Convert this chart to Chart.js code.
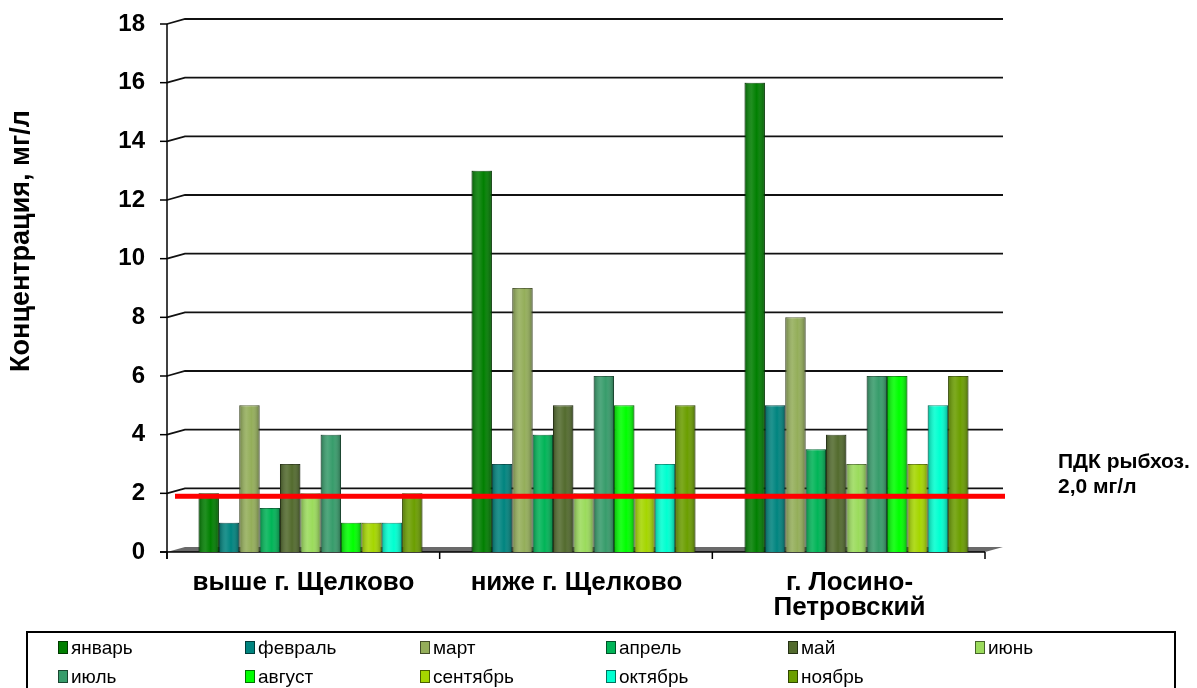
<!DOCTYPE html>
<html>
<head>
<meta charset="utf-8">
<script src="https://cdn.jsdelivr.net/npm/chart.js@4.4.1/dist/chart.umd.min.js"></script>
<style>
  html, body { margin: 0; padding: 0; background: #fff; }
  #wrap { width: 1197px; height: 688px; position: relative; }
</style>
</head>
<body>
<div id="wrap"><canvas id="c" width="1197" height="688"></canvas></div>
<script>
// ---- data ----
const categories = [['выше г. Щелково'], ['ниже г. Щелково'], ['г. Лосино-', 'Петровский']];
const months = ['январь', 'февраль', 'март', 'апрель', 'май', 'июнь', 'июль', 'август', 'сентябрь', 'октябрь', 'ноябрь'];
const jan = [2, 13, 16];
const feb = [1, 3, 5];
const mar = [5, 9, 8];
const apr = [1.5, 4, 3.5];
const may = [3, 5, 4];
const jun = [2, 2, 3];
const jul = [4, 6, 6];
const aug = [1, 5, 6];
const sep = [1, 2, 3];
const oct = [1, 3, 5];
const nov = [2, 5, 6];
const seriesValues = [jan, feb, mar, apr, may, jun, jul, aug, sep, oct, nov];
const colors = ['#007F00', '#00847F', '#94AE5A', '#00B457', '#536B2E', '#9BDB5C', '#379C6B', '#00FF00', '#A5D600', '#00FFD0', '#6B9E00'];
const yTicks = [0, 2, 4, 6, 8, 10, 12, 14, 16, 18];
const pdkLevel = 1.9;   // drawn position of the ПДК line
const pdkText = ['ПДК рыбхоз.', '2,0 мг/л'];
const yTitle = 'Концентрация, мг/л';

const FONT = '"Liberation Sans", Arial, sans-serif';

function darker(hex, f) {
  const n = parseInt(hex.slice(1), 16);
  const r = Math.round(((n >> 16) & 255) * f), g = Math.round(((n >> 8) & 255) * f), b = Math.round((n & 255) * f);
  return `rgb(${r},${g},${b})`;
}

const datasets = months.map((m, i) => ({
  label: m,
  data: seriesValues[i],
  backgroundColor: colors[i],
  borderColor: darker(colors[i], 0.6),
  borderWidth: 1,
  categoryPercentage: 0.82,
  barPercentage: 1.0
}));

const DX = 18, DY = 5;

const deco = {
  id: 'deco',
  beforeDatasetsDraw(chart) {
    const ctx = chart.ctx, y = chart.scales.y;
    const L = 167, R = 1003;
    ctx.save();
    const y0 = y.getPixelForValue(0);
    ctx.fillStyle = '#6a6a6a';
    ctx.beginPath();
    ctx.moveTo(L, y0); ctx.lineTo(L + DX, y0 - DY); ctx.lineTo(R, y0 - DY); ctx.lineTo(R - DX, y0);
    ctx.closePath(); ctx.fill();
    ctx.strokeStyle = '#111';
    ctx.lineWidth = 1.8;
    yTicks.forEach(v => {
      if (v === 0) return;
      const py = y.getPixelForValue(v);
      ctx.beginPath();
      ctx.moveTo(L, py); ctx.lineTo(L + DX, py - DY); ctx.lineTo(R, py - DY);
      ctx.stroke();
    });
    ctx.lineWidth = 1.5;
    ctx.strokeStyle = '#000';
    ctx.beginPath();
    ctx.moveTo(L, y.getPixelForValue(18)); ctx.lineTo(L, y0 + 7);
    ctx.stroke();
    yTicks.forEach(v => {
      const py = y.getPixelForValue(v);
      ctx.beginPath(); ctx.moveTo(L - 7, py); ctx.lineTo(L, py); ctx.stroke();
    });
    ctx.beginPath(); ctx.moveTo(L - 7, y0); ctx.lineTo(R - DX, y0); ctx.stroke();
    const catW = (R - DX - L) / categories.length;
    for (let i = 0; i <= categories.length; i++) {
      const px = L + catW * i;
      ctx.beginPath(); ctx.moveTo(px, y0); ctx.lineTo(px, y0 + 7); ctx.stroke();
    }
    ctx.restore();
  },
  afterDatasetsDraw(chart) {
    const ctx = chart.ctx, y = chart.scales.y;
    ctx.save();
    chart.data.datasets.forEach((ds, di) => {
      chart.getDatasetMeta(di).data.forEach(el => {
        const x0 = el.x - el.width / 2, x1 = el.x + el.width / 2;
        const g = ctx.createLinearGradient(x0, 0, x1, 0);
        g.addColorStop(0, 'rgba(0,0,0,0.28)');
        g.addColorStop(0.35, 'rgba(255,255,255,0.12)');
        g.addColorStop(0.6, 'rgba(255,255,255,0.0)');
        g.addColorStop(1, 'rgba(0,0,0,0.32)');
        ctx.fillStyle = g;
        ctx.fillRect(x0, el.y, el.width, el.base - el.y);
      });
    });
    const py = y.getPixelForValue(pdkLevel);
    ctx.fillStyle = '#FF0000';
    ctx.fillRect(175, py - 2.5, 830, 5);
    ctx.restore();
  },
  afterDraw(chart) {
    const ctx = chart.ctx, x = chart.scales.x;
    ctx.save();
    ctx.fillStyle = '#000';
    ctx.font = `bold 26px ${FONT}`;
    ctx.textAlign = 'center';
    ctx.textBaseline = 'middle';
    categories.forEach((lab, i) => {
      const cx = x.getPixelForValue(i) - 7;
      lab.forEach((line, k) => ctx.fillText(line, cx, 583 + k * 25));
    });
    ctx.textAlign = 'left';
    ctx.font = `bold 21px ${FONT}`;
    pdkText.forEach((t, k) => ctx.fillText(t, 1058, 462 + k * 25));
    ctx.save();
    ctx.translate(22, 241);
    ctx.rotate(-Math.PI / 2);
    ctx.textAlign = 'center';
    ctx.font = `bold 27px ${FONT}`;
    ctx.fillText(yTitle, 0, 0);
    ctx.restore();
    ctx.strokeStyle = '#000';
    ctx.lineWidth = 2;
    ctx.strokeRect(27, 632, 1148, 70);
    const colX = [58, 245, 420, 606, 788, 975];
    ctx.font = `19px ${FONT}`;
    ctx.textAlign = 'left';
    months.forEach((m, i) => {
      const r = Math.floor(i / 6), c = i % 6;
      const px = colX[c], cy = 648 + r * 29;
      ctx.fillStyle = colors[i];
      ctx.fillRect(px, cy - 7, 10, 13);
      ctx.strokeStyle = darker(colors[i], 0.45);
      ctx.lineWidth = 1;
      ctx.strokeRect(px + 0.5, cy - 6.5, 9, 12);
      ctx.fillStyle = '#000';
      ctx.fillText(m, px + 13, cy + 1);
    });
    ctx.restore();
  }
};

new Chart(document.getElementById('c'), {
  type: 'bar',
  data: { labels: categories, datasets },
  options: {
    responsive: false,
    animation: false,
    layout: { padding: { top: 24, right: 204, left: 0, bottom: 0 } },
    plugins: { legend: { display: false }, tooltip: { enabled: false } },
    scales: {
      x: {
        grid: { display: false, drawTicks: false },
        border: { display: false },
        ticks: { display: false },
        afterFit(s) { s.height = 136; s.paddingLeft = 0; s.paddingRight = 0; }
      },
      y: {
        min: 0, max: 18,
        afterBuildTicks(s) { s.ticks = yTicks.map(v => ({ value: v })); },
        grid: { display: false, drawTicks: false },
        border: { display: false },
        ticks: { padding: 29, color: '#000', font: { family: FONT, size: 24, weight: 'bold' } },
        afterFit(s) { s.width = 174; s.paddingTop = 0; s.paddingBottom = 0; }
      }
    }
  },
  plugins: [deco]
});
</script>
</body>
</html>
